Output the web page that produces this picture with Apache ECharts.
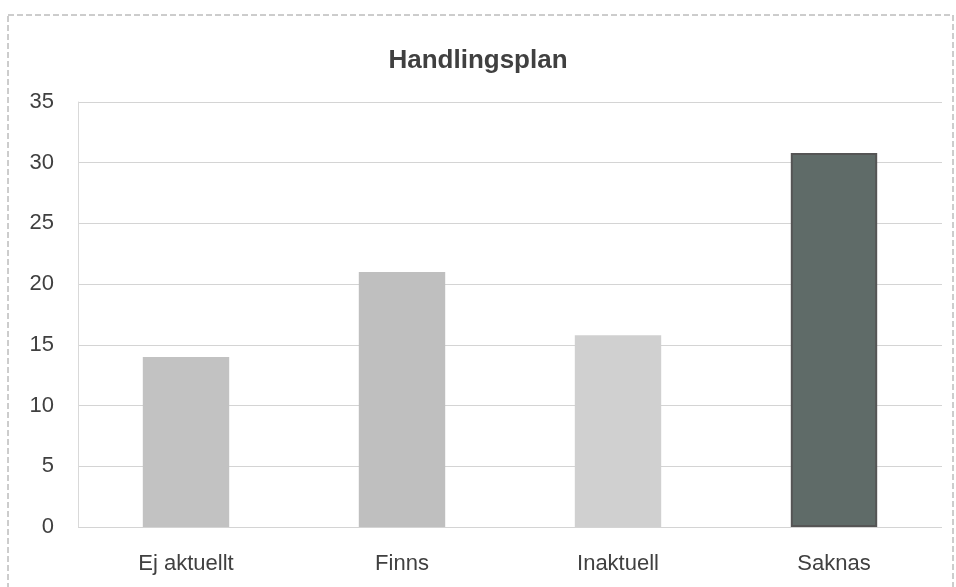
<!DOCTYPE html>
<html>
<head>
<meta charset="utf-8">
<script src="https://cdn.jsdelivr.net/npm/echarts@6/dist/echarts.min.js"></script>
<style>
    html, body { margin: 0; padding: 0; background: #fff; }
    #chart { width: 956px; height: 587px; }
</style>
</head>
<body>
<div id="chart"></div>
<script>
// chart data
var categories = ['Ej aktuellt', 'Finns', 'Inaktuell', 'Saknas'];
var values = [14, 21, 15.8, 30.8];
var barColors = ['#c2c2c2', '#bfbfbf', '#d0d0d0', '#5f6b68'];
var yTicks = [0, 5, 10, 15, 20, 25, 30, 35];

var chart = echarts.init(document.getElementById('chart'));
var textColor = '#404040';

chart.setOption({
    backgroundColor: '#fff',
    animation: false,
    title: {
        text: 'Handlingsplan',
        left: 'center',
        top: 43,
        textStyle: { fontFamily: 'Liberation Sans', fontWeight: 'bold', fontSize: 26, color: textColor }
    },
    graphic: [{
        type: 'rect',
        shape: { x: 8, y: 15, width: 945, height: 575 },
        style: { fill: 'none', stroke: '#9a9a9a', lineWidth: 1, lineDash: [6, 3] },
        silent: true
    }],
    grid: { left: 78, right: 14, top: 102, bottom: 60 },
    xAxis: {
        type: 'category',
        data: categories,
        axisLine: { show: false },
        axisTick: { show: false },
        axisLabel: { color: textColor, fontSize: 22, margin: 26, fontFamily: 'Liberation Sans' }
    },
    yAxis: {
        type: 'value',
        min: yTicks[0],
        max: yTicks[yTicks.length - 1],
        interval: 5,
        axisLine: { show: true, lineStyle: { color: '#d9d9d9' } },
        axisLabel: { color: textColor, fontSize: 22, margin: 24, fontFamily: 'Liberation Sans' },
        splitLine: { lineStyle: { color: '#d4d4d4', width: 1 } }
    },
    series: [{
        type: 'bar',
        barWidth: '40%',
        data: values.map(function(v, i) {
            return {
                value: v,
                itemStyle: {
                    color: barColors[i],
                    borderColor: i === 3 ? '#555' : barColors[i],
                    borderWidth: i === 3 ? 2 : 0
                }
            };
        })
    }]
});
</script>
</body>
</html>
